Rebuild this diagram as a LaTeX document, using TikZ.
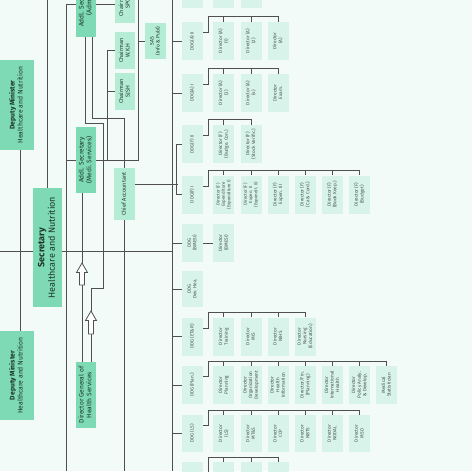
\documentclass[tikz,border=0pt]{standalone}
\usepackage{fontspec}
\setmainfont{Fira Sans}
\usepackage{graphicx}
\usetikzlibrary{positioning, calc}
\definecolor{mintdeep}{RGB}{125,218,180}
\definecolor{mintmid}{RGB}{180,236,213}
\definecolor{mintpale}{RGB}{216,244,234}
\definecolor{mintbg}{RGB}{243,251,248}
\definecolor{wire}{RGB}{80,80,80}
\definecolor{inkdark}{RGB}{30,52,44}
\definecolor{inkgray}{RGB}{70,82,78}

\newcommand{\vlabel}[1]{\rotatebox{90}{\begin{tabular}{@{}c@{}}#1\end{tabular}}}

\begin{document}
\begin{tikzpicture}[
    x=1pt, y=-1pt,
    lead/.style={rectangle, fill=mintdeep, inner sep=0pt, text=inkdark, font=\fontsize{6.6}{7.6}\selectfont, minimum width=20pt, minimum height=66pt},
    aide/.style={rectangle, fill=mintmid, inner sep=0pt, text=inkdark, font=\fontsize{5.6}{6.6}\selectfont, minimum width=20pt, minimum height=37pt},
    wing/.style={rectangle, fill=mintpale, inner sep=0pt, text=inkgray, font=\fontsize{4.7}{5.6}\selectfont, minimum width=21pt, minimum height=38pt},
    wire/.style={draw=wire, line width=1pt},
    hollow/.style={draw=wire, fill=white, line width=0.8pt, line join=miter},
]
    \useasboundingbox (0,0) rectangle (474,474);
    \begin{scope}
    \clip (0,0) rectangle (472,471);
    \fill[mintbg] (0,0) rectangle (472,471);

    % Ministry and Secretary
    \node[lead, minimum width=34pt, minimum height=90pt, font=\fontsize{6.8}{8}\selectfont] (dmTop) at (17,105) {\vlabel{\textbf{Deputy Minister}\\Healthcare and Nutrition}};
    \node[lead, minimum width=34pt, minimum height=89pt, font=\fontsize{6.8}{8}\selectfont] (dmBot) at (17,375.5) {\vlabel{\textbf{Deputy Minister}\\Healthcare and Nutrition}};
    \node[lead, minimum width=29pt, minimum height=119pt, font=\fontsize{9}{10.5}\selectfont] (secy) at (47.5,247.5) {\vlabel{\textbf{Secretary}\\Healthcare and Nutrition}};

    % Additional secretaries and DGHS
    \node[lead] (addlAdmin) at (86,4) {\vlabel{Addl. Secretary\\(Admin)}};
    \node[lead] (addlMedi) at (86,160) {\vlabel{Addl. Secretary\\(Medi. Services)}};
    \node[lead] (dghs) at (86,395) {\vlabel{Director General of\\Health Services}};

    % Chairmen, SAS, accounts
    \node[aide, minimum height=38pt] (chSPC) at (125,4) {\vlabel{Chairman\\SPC}};
    \node[aide] (chWKH) at (125,50.5) {\vlabel{Chairman\\W.K.H}};
    \node[aide] (chSJSH) at (125,91.5) {\vlabel{Chairman\\SJSH}};
    \node[aide, minimum width=21pt, minimum height=36pt, font=\fontsize{5}{6}\selectfont] (sas) at (155.5,41) {\vlabel{SAS\\(Info \& Publ)}};
    \node[aide, minimum width=21pt, minimum height=52pt] (chiefAcc) at (124.5,194) {\vlabel{Chief Accountant}};

    % DDG column
    \node[wing] (ddgTop) at (192.5,-11) {};
    \node[wing, right=10pt of ddgTop] (topA) {};
    \node[wing, right=5.75pt of topA] (topB) {};

    \node[wing] (ddgAii) at (192.5,41) {\vlabel{DDG(A) II}};
    \node[wing, right=10pt of ddgAii] (dirA1) {\vlabel{Director (A)\\(1)}};
    \node[wing, right=5.75pt of dirA1] (dirA2) {\vlabel{Director (A)\\(2)}};
    \node[wing, right=5.75pt of dirA2] (dirA3) {\vlabel{Director\\(A)}};

    \node[wing] (ddgAi) at (192.5,93) {\vlabel{DDG(A) I}};
    \node[wing, right=10pt of ddgAi] (dirA4) {\vlabel{Director (A)\\(3)}};
    \node[wing, right=5.75pt of dirA4] (dirA5) {\vlabel{Director (A)\\(4)}};
    \node[wing, right=5.75pt of dirA5] (dirExam) {\vlabel{Director\\Exam.}};

    \node[wing] (ddgFii) at (192.5,144) {\vlabel{DDG(F) II}};
    \node[wing, right=10pt of ddgFii] (dirBudCon) {\vlabel{Director (F)\\(Budge. Con.)}};
    \node[wing, right=5.75pt of dirBudCon] (dirStock) {\vlabel{Director (F)\\(Stock Verific.)}};

    \node[wing] (ddgFi) at (192.5,194.5) {\vlabel{DDG(F) I}};
    \node[wing, right=10pt of ddgFi, font=\fontsize{4.4}{5.3}\selectfont] (dirExp1) {\vlabel{Director (F)\\Expenditure\\(Expenditure I)}};
    \node[wing, right=5.75pt of dirExp1, font=\fontsize{4.4}{5.3}\selectfont] (dirExp2) {\vlabel{Director (F)\\Expen. II\\(Expendit. II)}};
    \node[wing, right=5.75pt of dirExp2] (dirExp3) {\vlabel{Director (F)\\Expen. III}};
    \node[wing, right=5.75pt of dirExp3] (dirCord) {\vlabel{Director (F)\\(Ca \& Cord.)}};
    \node[wing, right=5.75pt of dirCord] (dirBook) {\vlabel{Director (F)\\(Book Keep.)}};
    \node[wing, right=5.75pt of dirBook] (dirBudget) {\vlabel{Director (F)\\(Budget)}};

    \node[wing] (ddgBme) at (192.5,243) {\vlabel{DDG\\(BMESI)}};
    \node[wing, right=10pt of ddgBme] (dirBme) {\vlabel{Director\\(BMESI)}};

    \node[wing, minimum height=36pt] (ddgDev) at (192.5,289) {\vlabel{DDG\\Dev. Hea.}};

    \node[wing] (ddgEtr) at (192.5,336.5) {\vlabel{DDG (ET\&R)}};
    \node[wing, right=10pt of ddgEtr] (dirTrain) {\vlabel{Director\\Training}};
    \node[wing, right=5.75pt of dirTrain] (dirMis) {\vlabel{Director\\MIS}};
    \node[wing, right=5.75pt of dirMis] (dirNihs) {\vlabel{Director\\NIHS}};
    \node[wing, right=5.75pt of dirNihs] (dirNurse) {\vlabel{Director\\Nursing\\(Education)}};

    \node[wing] (ddgPlan) at (192.5,385) {\vlabel{DDG (Plan.)}};
    \node[wing, right=10pt of ddgPlan] (dirPlan) {\vlabel{Director\\Planning}};
    \node[wing, right=5.75pt of dirPlan] (dirOrg) {\vlabel{Director\\Organization\\Development}};
    \node[wing, right=5.75pt of dirOrg] (dirInfo) {\vlabel{Director\\Health\\Information}};
    \node[wing, right=5.75pt of dirInfo] (dirFinPlan) {\vlabel{Director/Fin.\\(Planning)}};
    \node[wing, right=5.75pt of dirFinPlan] (dirIntl) {\vlabel{Director\\International\\Health}};
    \node[wing, right=5.75pt of dirIntl] (dirPolicy) {\vlabel{Director\\Policy Analy.\\\& Develop.}};
    \node[wing, right=5.75pt of dirPolicy] (medStat) {\vlabel{Medical\\Statistician}};

    \node[wing, minimum height=37pt] (ddgLs) at (192.5,433.5) {\vlabel{DDG (LS)}};
    \node[wing, minimum height=37pt, right=10pt of ddgLs] (dirLs) {\vlabel{Director\\(LS)}};
    \node[wing, minimum height=37pt, right=5.75pt of dirLs] (dirMts) {\vlabel{Director\\MT\&S}};
    \node[wing, minimum height=37pt, right=5.75pt of dirMts] (dirCcp) {\vlabel{Director\\CCP}};
    \node[wing, minimum height=37pt, right=5.75pt of dirCcp] (dirNbts) {\vlabel{Director\\NBTS}};
    \node[wing, minimum height=37pt, right=5.75pt of dirNbts] (dirNodal) {\vlabel{Director\\NODAL}};
    \node[wing, minimum height=37pt, right=5.75pt of dirNodal] (dirMsd) {\vlabel{Director\\MSD}};

    \node[wing] (ddgBot) at (192.5,481) {};
    \node[wing, right=10pt of ddgBot] (botA) {};
    \node[wing, right=5.75pt of botA] (botB) {};
    \node[wing, right=5.75pt of botB] (botC) {};

    % Free ends
    \coordinate (edgeW) at (0,251);
    \coordinate (secyUp) at (47.5,0);
    \coordinate (adminFoot) at (66,471);
    \coordinate (sasTop) at (138,0);
    \coordinate (chiefFoot) at (124.5,471);
    \coordinate (ddgSpine) at (172,0);
    \coordinate (ddgFoot) at (172,471);

    % Left wiring
    \draw[wire] (edgeW) -- (edgeW -| secy.west);
    \draw[wire] (edgeW -| secy.east) -- (edgeW -| ddgSpine);
    \draw[wire] ([xshift=3pt]dmTop.south) -- ([xshift=3pt]dmBot.north);
    \draw[wire] (secy.north) -- (secyUp);
    \draw[wire] (addlAdmin.west) -| (adminFoot);
    \draw[wire] (addlMedi.west) -- (addlMedi.west -| adminFoot);
    \draw[wire] (addlAdmin.east) -- (chSPC.west);
    \draw[wire] ([xshift=6pt]addlAdmin.south) -- ++(0,81) -| (chiefAcc.north);
    \draw[wire] ([xshift=-1pt]addlAdmin.south) -- ++(0,86) -- ++(18,0) -- ++(0,165) -| ([xshift=5pt]dghs.north);
    \draw[wire] ([xshift=-4pt]addlMedi.south) -- ([xshift=-4pt]dghs.north);
    \draw[wire] (addlMedi.east) -| (sasTop);
    \draw[wire] (sasTop |- sas) -- (sas.west);
    \draw[wire] (chWKH.west) -- ++(-7,0) -- ++(0,109.5);
    \draw[wire] (chSJSH.west) -- ++(-7,0);
    \draw[wire] (chiefAcc.south) -- (chiefFoot);
    \draw[wire] ([yshift=10pt]chiefAcc.east) -- ++(42.5,0);

    % DDG spine
    \draw[wire] (ddgSpine) -- (ddgFoot);
    \foreach \d in {ddgTop, ddgAii, ddgAi, ddgBme, ddgDev, ddgEtr, ddgPlan, ddgLs, ddgBot}
        \draw[wire] (ddgSpine |- \d) -- (\d.west);
    \draw[wire] (ddgFii.west) -- ++(-5,0) |- (ddgFi.west);
    \draw[wire] (ddgBme.east) -- (dirBme.west);

    % Director brackets
    \draw[wire] ([yshift=-11pt]ddgAii.north east) -| ([shift={(5,-5)}]ddgAii.north east) -| (dirA3.north);
    \draw[wire] ([yshift=-11pt]ddgAi.north east) -| ([shift={(5,-5)}]ddgAi.north east) -| (dirExam.north);
    \draw[wire] ([yshift=-11pt]ddgFii.north east) -| ([shift={(5,-5)}]ddgFii.north east) -| (dirStock.north);
    \draw[wire] ([yshift=-11pt]ddgFi.north east) -| ([shift={(5,-5)}]ddgFi.north east) -| (dirBudget.north);
    \draw[wire] ([yshift=-11pt]ddgEtr.north east) -| ([shift={(5,-5)}]ddgEtr.north east) -| (dirNurse.north);
    \draw[wire] ([yshift=-11pt]ddgPlan.north east) -| ([shift={(5,-4)}]ddgPlan.north east) -| (medStat.north);
    \draw[wire] ([yshift=-11pt]ddgLs.north east) -| ([shift={(5,-4)}]ddgLs.north east) -| (dirMsd.north);
    \draw[wire] ([yshift=-11pt]ddgBot.north east) -| ([shift={(5,-4)}]ddgBot.north east) -| (botC.north);
    \foreach \c in {dirA1, dirA2, dirA4, dirA5, dirBudCon, dirExp1, dirExp2, dirExp3, dirCord, dirBook, dirTrain, dirMis, dirNihs}
        \draw[wire] (\c.north) -- ++(0,-5);
    \foreach \c in {dirPlan, dirOrg, dirInfo, dirFinPlan, dirIntl, dirPolicy, dirLs, dirMts, dirCcp, dirNbts, dirNodal, botA, botB}
        \draw[wire] (\c.north) -- ++(0,-4);

    % Hollow arrows
    \draw[hollow] (82,263) -- ++(5.5,9.5) -- ++(-3,0) -- ++(0,12.5) -- ++(-5,0) -- ++(0,-12.5) -- ++(-3,0) -- cycle;
    \draw[hollow] (91,311) -- ++(5.5,9.5) -- ++(-3,0) -- ++(0,13.5) -- ++(-5,0) -- ++(0,-13.5) -- ++(-3,0) -- cycle;
    \end{scope}
\end{tikzpicture}
\end{document}
